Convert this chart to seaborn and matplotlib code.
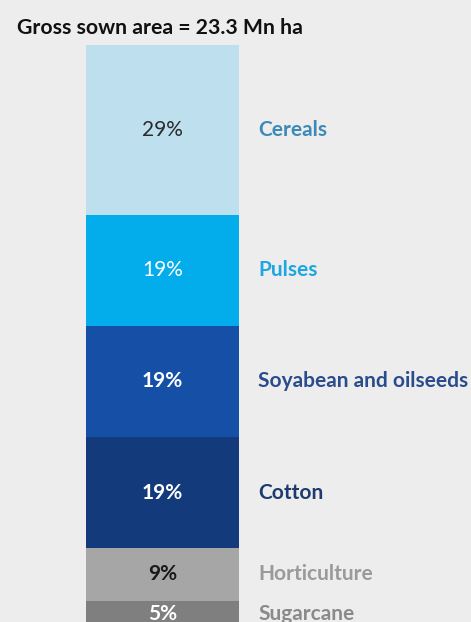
import matplotlib
matplotlib.use("Agg")
import matplotlib.pyplot as plt
import seaborn as sns
import numpy as np
import pandas as pd

categories = ["Cereals", "Pulses", "Soyabean and oilseeds", "Cotton", "Horticulture", "Sugarcane"]
shares = [29, 19, 19, 19, 9, 5]
pct_labels = ["29%", "19%", "19%", "19%", "9%", "5%"]
title = "Gross sown area = 23.3 Mn ha"

bar_colors = ["#bddfee", "#03adec", "#164fa6", "#133b7c", "#a6a6a6", "#7f7f7f"]
name_colors = ["#3d8ab9", "#1ea6e0", "#2a4c8c", "#1e3a6f", "#9a9a9a", "#8a8a8a"]
pct_colors = ["#2a2a2a", "#ffffff", "#ffffff", "#ffffff", "#1a1a1a", "#ffffff"]
pct_weights = ["normal", "normal", "bold", "bold", "bold", "bold"]

sns.set_theme(style="white")
plt.rcParams["font.family"] = ["Lato", "DejaVu Sans"]
BG = "#ededed"

W, H = 471, 622
fig = plt.figure(figsize=(W / 100, H / 100), dpi=100, facecolor=BG)
ax = fig.add_axes([0, 0, 1, 1])
ax.set_facecolor(BG)

cum = np.cumsum(shares)
starts = cum - np.array(shares)
df = pd.DataFrame({"cat": categories, "share": shares, "cum": cum, "start": starts})

# draw cumulative bars from the largest to the smallest so each overlays the next
for i in range(len(categories) - 1, -1, -1):
    sns.barplot(x=["bar"], y=[df["cum"][i]], color=bar_colors[i], width=1.0,
                saturation=1, ax=ax, linewidth=0)

# pixel calibration: bar spans x 86..239 px, y=0 at 45 px, 5.85 px per %
px_per_unit_x = 153.0
left_px, right_px = 86.0, 239.0
ax.set_xlim(-0.5 - left_px / px_per_unit_x, 0.5 + (W - right_px) / px_per_unit_x)
ppu = 5.85
top_px = 45.0
ax.set_ylim((H - top_px) / ppu, -top_px / ppu)
ax.axis("off")

label_x = 0.5 + (258 - right_px) / px_per_unit_x
for i, row in df.iterrows():
    mid = row["start"] + row["share"] / 2
    if i == len(categories) - 1:
        mid -= 0.3
    ax.text(0, mid, pct_labels[i], ha="center", va="center", fontsize=15,
            color=pct_colors[i], fontweight=pct_weights[i])
    ax.text(label_x, mid, row["cat"], ha="left", va="center", fontsize=15,
            color=name_colors[i], fontweight="bold")

fig.text(17 / W, 1 - 28 / H, title, ha="left", va="center", fontsize=15.3,
         color="#111111", fontweight="bold")

fig.savefig("out.png", dpi=100, facecolor=BG)
